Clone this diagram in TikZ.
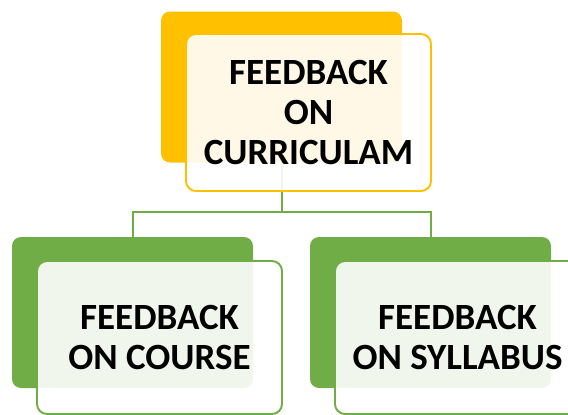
\documentclass[tikz,border=0pt]{standalone}
\usepackage{fontspec}
\setmainfont{Carlito}
\usepackage{tikz}
\definecolor{gold}{HTML}{FFC000}
\definecolor{leaf}{HTML}{70AD47}

\begin{document}
\begin{tikzpicture}
  [x=1pt,y=-1pt,
   back node/.style={rounded corners=9pt,minimum width=241pt,minimum height=151pt,inner sep=0pt},
   front node/.style={rounded corners=10pt,draw,line width=1.9pt,fill=white,fill opacity=0.9,text opacity=1,minimum width=245pt,align=center,inner sep=0pt,font=\fontsize{37}{40}\selectfont\bfseries},
   link/.style={draw=leaf,line width=2pt}]
  \clip (0,0) rectangle (568,415);
  \node[back node, fill=gold] (curback) at (281.5,87) {};
\node[back node, fill=leaf] (courseback) at (132.5,312.5) {};
\node[back node, fill=leaf] (sylback) at (430.5,312.5) {};

\coordinate (split) at (281.5,212);
  
  \draw[link] (curback.south) -- (split);
  \draw[link] (split) -| (courseback.north);
  \draw[link] (split) -| (sylback.north);
  
\node[front node, draw=gold, minimum height=157pt] (cur) at (308.5,112.5) {FEEDBACK\\ON\\CURRICULAM};
\node[front node, draw=leaf, minimum height=153pt] (course) at (159.5,337.5) {FEEDBACK\\ON COURSE};
\node[front node, draw=leaf, minimum height=153pt] (syl) at (457.5,337.5) {FEEDBACK\\ON SYLLABUS};

\end{tikzpicture}
\end{document}
